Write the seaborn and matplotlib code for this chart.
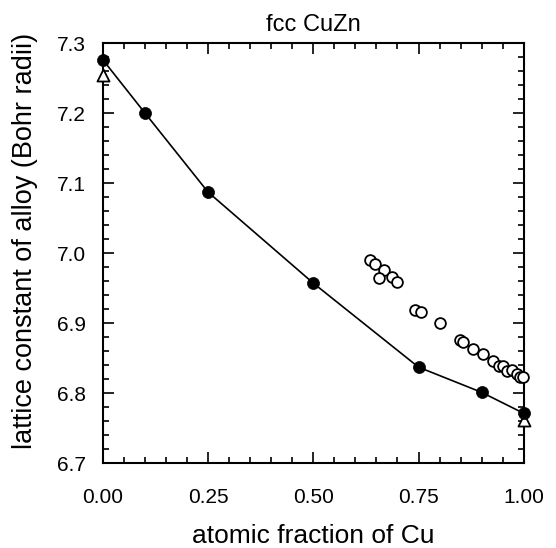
import matplotlib
matplotlib.use("Agg")
import matplotlib.pyplot as plt
import seaborn as sns
import pandas as pd
from matplotlib.ticker import MultipleLocator, FormatStrFormatter

# Data
calc_x = [0.0, 0.1, 0.25, 0.5, 0.75, 0.9, 1.0]
calc_y = [7.276, 7.200, 7.087, 6.957, 6.837, 6.801, 6.771]

tri_x = [0.0, 1.0]
tri_y = [7.254, 6.761]

exp_x = [0.634, 0.646, 0.667, 0.656, 0.686, 0.698, 0.741, 0.755, 0.800, 0.848,
         0.855, 0.879, 0.903, 0.926, 0.941, 0.950, 0.960, 0.971, 0.983, 0.990, 0.998]
exp_y = [6.990, 6.984, 6.976, 6.964, 6.966, 6.959, 6.919, 6.916, 6.900, 6.876,
         6.873, 6.863, 6.856, 6.846, 6.839, 6.839, 6.831, 6.833, 6.827, 6.823, 6.823]

xticks = [0.0, 0.25, 0.5, 0.75, 1.0]
yticks = [6.7, 6.8, 6.9, 7.0, 7.1, 7.2, 7.3]

sns.set_style("ticks", {"axes.edgecolor": "black", "text.color": "black",
                        "axes.labelcolor": "black", "xtick.color": "black",
                        "ytick.color": "black"})
plt.rcParams['font.family'] = ['Liberation Sans', 'DejaVu Sans']

fig = plt.figure(figsize=(5.56, 5.48), dpi=100)
ax = fig.add_axes([0.185, 0.155, 0.757, 0.7665])

calc = pd.DataFrame({"x": calc_x, "y": calc_y})
tri = pd.DataFrame({"x": tri_x, "y": tri_y})
exp = pd.DataFrame({"x": exp_x, "y": exp_y})

sns.lineplot(data=calc, x="x", y="y", ax=ax, color="black", linewidth=1.2,
             sort=False, zorder=2)
sns.scatterplot(data=exp, x="x", y="y", ax=ax, marker="o", s=60,
                facecolor="white", edgecolor="black", linewidth=1.3, zorder=3,
                clip_on=False)
sns.scatterplot(data=tri, x="x", y="y", ax=ax, marker="^", s=75,
                facecolor="white", edgecolor="black", linewidth=1.3, zorder=4,
                clip_on=False)
sns.scatterplot(data=calc, x="x", y="y", ax=ax, marker="o", s=75,
                color="black", edgecolor="black", linewidth=0.5, zorder=5,
                clip_on=False)

ax.set_xlim(0, 1.0)
ax.set_ylim(6.7, 7.3)
ax.set_xticks(xticks)
ax.set_yticks(yticks)
ax.xaxis.set_major_formatter(FormatStrFormatter("%.2f"))
ax.yaxis.set_major_formatter(FormatStrFormatter("%.1f"))
ax.xaxis.set_minor_locator(MultipleLocator(0.05))
ax.yaxis.set_minor_locator(MultipleLocator(0.02))
ax.tick_params(which="both", direction="in", top=True, right=True, labelsize=15,
               width=1.2, colors="black")
ax.tick_params(axis="x", which="major", pad=18)
ax.tick_params(axis="y", which="major", pad=12)
ax.tick_params(which="major", length=8)
ax.tick_params(which="minor", length=4)
for s in ax.spines.values():
    s.set_linewidth(1.5)
    s.set_color("black")

ax.set_xlabel("atomic fraction of Cu", fontsize=19, labelpad=12, color="black")
ax.set_ylabel("lattice constant of alloy (Bohr radii)", fontsize=19.5, color="black")
ax.yaxis.set_label_coords(-0.155, 0.53)
ax.set_title("fcc CuZn", fontsize=17, pad=9, color="black")

fig.savefig("out.png", dpi=100)
